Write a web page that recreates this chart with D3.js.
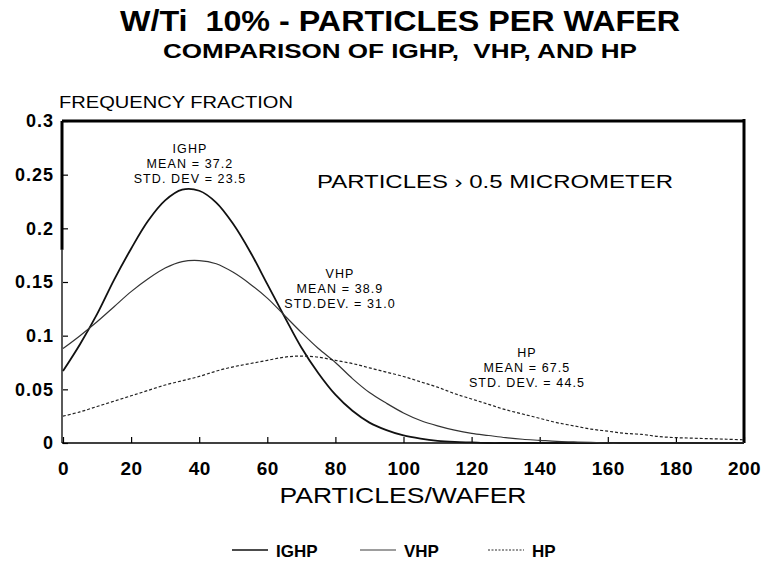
<!DOCTYPE html>
<html>
<head>
<meta charset="utf-8">
<script src="https://cdn.jsdelivr.net/npm/d3@7"></script>
<style>
    body { margin: 0; background: white; }
    text { font-family: "Liberation Sans", Arial, sans-serif; fill: black; white-space: pre; }
</style>
</head>
<body>
<div id="chart"></div>
<script>
// Readings taken off the scanned chart, every 5 particles/wafer.
const particles = d3.range(0, 201, 5)
const ighp = [0.067, 0.092, 0.120, 0.152, 0.181, 0.207, 0.226, 0.236, 0.235, 0.224, 0.204, 0.178, 0.148, 0.118, 0.089,
    0.065, 0.045, 0.030, 0.019, 0.012, 0.007, 0.004, 0.002, 0.001, 0.0005,
    0, 0, 0, 0, 0, 0, 0, 0, 0, 0, 0, 0, 0, 0, 0, 0]
const vhp = [0.088, 0.100, 0.113, 0.127, 0.141, 0.153, 0.163, 0.169, 0.170, 0.167, 0.159, 0.148, 0.135, 0.119, 0.103,
    0.088, 0.075, 0.060, 0.047, 0.037, 0.028, 0.021, 0.016, 0.012, 0.009, 0.007, 0.005, 0.0035, 0.0025, 0.0015,
    0.001, 0.0005, 0, 0, 0, 0, 0, 0, 0, 0, 0]
const hp = [0.025, 0.029, 0.034, 0.039, 0.044, 0.049, 0.054, 0.058, 0.062, 0.067, 0.071, 0.074, 0.077,
    0.080, 0.081, 0.080, 0.077, 0.074, 0.070, 0.066, 0.062, 0.057, 0.052, 0.046, 0.041, 0.036, 0.031, 0.027,
    0.023, 0.019, 0.016, 0.013, 0.011, 0.009, 0.008, 0.006, 0.005, 0.0045, 0.004, 0.0035, 0.003]

const xTicks = [0, 20, 40, 60, 80, 100, 120, 140, 160, 180, 200]
const yTicks = ['0', '0.05', '0.1', '0.15', '0.2', '0.25', '0.3']

const seriesNames = ['IGHP', 'VHP', 'HP']
const annotations = [
    {name: 'IGHP', lines: ['IGHP', 'MEAN = 37.2', 'STD. DEV = 23.5']},
    {name: 'VHP', lines: ['VHP', 'MEAN = 38.9', 'STD.DEV. = 31.0']},
    {name: 'HP', lines: ['HP', 'MEAN = 67.5', 'STD. DEV. = 44.5']}
]

const config = {
    containerWidth: 766,
    containerHeight: 563,
    margin: {top: 121, right: 22, bottom: 120, left: 63}
}
const width = config.containerWidth - config.margin.left - config.margin.right
const height = config.containerHeight - config.margin.top - config.margin.bottom

const svg = d3.select('#chart')
    .append('svg')
    .attr('width', config.containerWidth)
    .attr('height', config.containerHeight)

// Titles
svg.append('text')
    .attr('x', 400).attr('y', 31)
    .attr('text-anchor', 'middle')
    .attr('font-size', 30).attr('font-weight', 'bold')
    .attr('textLength', 560).attr('lengthAdjust', 'spacingAndGlyphs')
    .text('W/Ti  10% - PARTICLES PER WAFER')

svg.append('text')
    .attr('x', 400).attr('y', 58)
    .attr('text-anchor', 'middle')
    .attr('font-size', 21).attr('font-weight', 'bold')
    .attr('textLength', 474).attr('lengthAdjust', 'spacingAndGlyphs')
    .text('COMPARISON OF IGHP,  VHP, AND HP')

svg.append('text')
    .attr('x', 59).attr('y', 108)
    .attr('font-size', 17)
    .attr('textLength', 234).attr('lengthAdjust', 'spacingAndGlyphs')
    .text('FREQUENCY FRACTION')

const chart = svg.append('g')
    .attr('transform', `translate(${config.margin.left}, ${config.margin.top})`)

const x = d3.scaleLinear().domain([0, 200]).range([0, width])
const y = d3.scaleLinear().domain([0, 0.3]).range([height, 0])

// Axes, ticks pointing inward
const xAxis = chart.append('g')
    .attr('transform', `translate(0, ${height})`)
    .call(d3.axisBottom(x).tickValues(xTicks).tickSizeInner(-6).tickSizeOuter(0).tickFormat(d3.format('d')))
xAxis.select('.domain').remove()
xAxis.selectAll('.tick line').attr('stroke-width', 1.2)
xAxis.selectAll('.tick text')
    .attr('y', 32).attr('dy', 0)
    .attr('font-size', 19).attr('font-weight', 'bold')
    .attr('font-family', '"Liberation Sans", Arial, sans-serif')
    .attr('letter-spacing', 0.5)

const yAxis = chart.append('g')
    .call(d3.axisLeft(y).tickValues(yTicks.map(Number)).tickSizeInner(-5).tickSizeOuter(0)
        .tickFormat((d, i) => yTicks[i]))
yAxis.select('.domain').remove()
yAxis.selectAll('.tick line').attr('stroke-width', 1.2)
yAxis.selectAll('.tick text')
    .attr('x', -9)
    .attr('font-size', 18).attr('font-weight', 'bold')
    .attr('font-family', '"Liberation Sans", Arial, sans-serif')
    .attr('letter-spacing', 1)

// Frame: heavy top/right, light bottom/left like the original plot
chart.append('line').attr('x1', -1).attr('x2', width).attr('y1', 0).attr('y2', 0)
    .attr('stroke', 'black').attr('stroke-width', 3)
chart.append('line').attr('x1', width).attr('x2', width).attr('y1', -2).attr('y2', height)
    .attr('stroke', 'black').attr('stroke-width', 3)
chart.append('line').attr('x1', -1).attr('x2', -1).attr('y1', 0).attr('y2', y(0.18))
    .attr('stroke', 'black').attr('stroke-width', 3)
chart.append('line').attr('x1', -1).attr('x2', -1).attr('y1', y(0.18)).attr('y2', height)
    .attr('stroke', 'black').attr('stroke-width', 1.3)
chart.append('line').attr('x1', -1).attr('x2', width).attr('y1', height).attr('y2', height)
    .attr('stroke', 'black').attr('stroke-width', 1.5)

// Curves
const styles = {
    IGHP: {width: 1.8, color: '#111', dash: null},
    VHP: {width: 1.2, color: '#333', dash: null},
    HP: {width: 1.2, color: '#222', dash: '3,2'}
}
const seriesData = {IGHP: ighp, VHP: vhp, HP: hp}

const line = d3.line()
    .x(d => x(d[0]))
    .y(d => y(Math.max(0, d[1])))
    .curve(d3.curveCatmullRom.alpha(0.5))

seriesNames.forEach(name => {
    chart.append('path')
        .datum(particles.map((p, i) => [p, seriesData[name][i]]))
        .attr('fill', 'none')
        .attr('stroke', styles[name].color)
        .attr('stroke-width', styles[name].width)
        .attr('stroke-dasharray', styles[name].dash)
        .attr('d', line)
})

// Curve annotations
const annotationPos = {IGHP: [127, 32], VHP: [277, 157], HP: [464, 236]}
annotations.forEach(a => {
    const t = chart.append('text')
        .attr('text-anchor', 'middle')
        .attr('font-family', '"DejaVu Sans", sans-serif')
        .attr('font-size', 12.5)
        .attr('letter-spacing', 1.1)
    a.lines.forEach((l, i) => {
        t.append('tspan')
            .attr('x', annotationPos[a.name][0])
            .attr('y', annotationPos[a.name][1] + i * 15)
            .text(l)
    })
})

chart.append('text')
    .attr('x', 254).attr('y', 67)
    .attr('font-size', 18)
    .attr('textLength', 356).attr('lengthAdjust', 'spacingAndGlyphs')
    .text('PARTICLES \u203a 0.5 MICROMETER')

// Axis title
svg.append('text')
    .attr('x', 403).attr('y', 503)
    .attr('text-anchor', 'middle')
    .attr('font-size', 22)
    .attr('textLength', 247).attr('lengthAdjust', 'spacingAndGlyphs')
    .text('PARTICLES/WAFER')

// Legend
const legendX = {IGHP: 232, VHP: 360, HP: 488}
const legend = svg.append('g')
seriesNames.forEach(name => {
    legend.append('line')
        .attr('x1', legendX[name]).attr('x2', legendX[name] + 36)
        .attr('y1', 550).attr('y2', 550)
        .attr('stroke', styles[name].color)
        .attr('stroke-width', styles[name].width * 0.8)
        .attr('stroke-dasharray', name === 'HP' ? '2,1.5' : null)
    legend.append('text')
        .attr('x', legendX[name] + 44).attr('y', 557)
        .attr('font-size', 17).attr('font-weight', 'bold')
        .text(name)
})
</script>
</body>
</html>
